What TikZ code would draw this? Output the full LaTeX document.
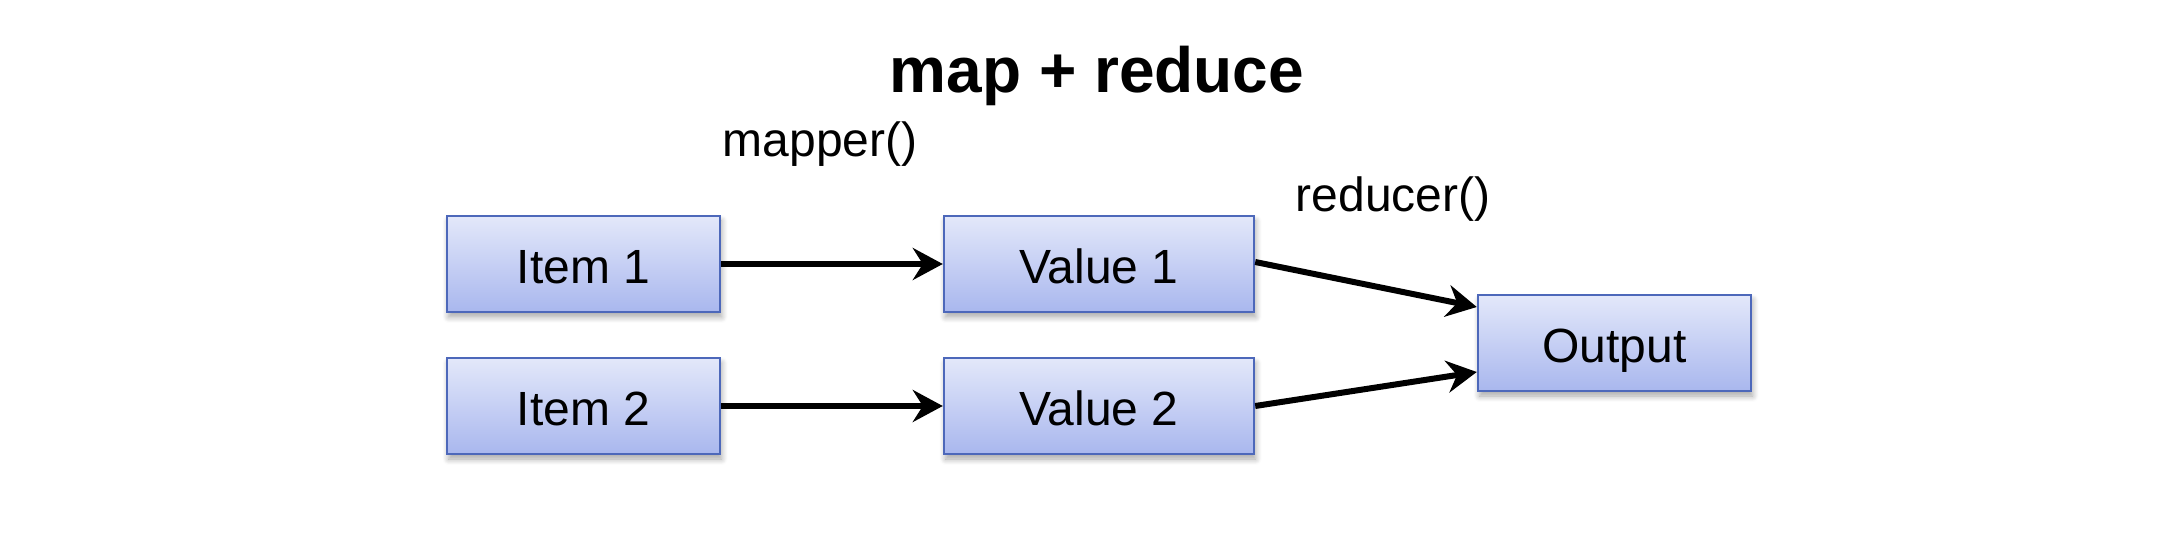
\documentclass[tikz,border=0pt]{standalone}
\usepackage{fontspec}
\setmainfont{Liberation Sans}
\usetikzlibrary{arrows.meta,shadows.blur,calc}
\definecolor{boxtop}{HTML}{E3E8FA}
\definecolor{boxbot}{HTML}{A9B7EE}
\definecolor{boxline}{HTML}{4D68BA}
\tikzset{
  procbox/.style={draw=boxline, line width=1.2pt, top color=boxtop, bottom color=boxbot,
    minimum height=48pt, inner sep=0pt, text height=20pt, text depth=0pt,
    font=\fontsize{24}{28}\selectfont,
    blur shadow={shadow xshift=0.8pt, shadow yshift=-2.5pt, shadow blur radius=3pt,
      shadow blur steps=8, shadow opacity=35}},
  smallbox/.style={procbox, minimum width=136.5pt},
  widebox/.style={procbox, minimum width=155pt},
  flow/.style={line width=3pt, -{Stealth[length=15pt,width=16pt,inset=5pt]}},
  lbl/.style={anchor=base, inner sep=0pt, font=\fontsize{24}{28}\selectfont},
}
\begin{document}
\begin{tikzpicture}[x=0.5pt,y=-0.5pt]
\useasboundingbox (0,0) rectangle (2184,560);
\node[lbl, font=\fontsize{32}{38}\selectfont\bfseries] (title) at (1097,93) {map + reduce};
\node[smallbox] (i1) at (583.5,264) {Item 1};
\node[smallbox] (i2) at (583.5,406) {Item 2};
\node[widebox] (v1) at (1099,264) {Value 1};
\node[widebox] (v2) at (1099,406) {Value 2};
\node[smallbox] (out) at (1614.5,343) {Output};
\node[lbl] (mapper) at (820,157) {mapper()};
\node[lbl] (reducer) at (1393,212) {reducer()};
\draw[flow] (i1) -- (v1);
\draw[flow] (i2) -- (v2);
\draw[flow] ([yshift=1pt]v1.east) -- ([yshift=18pt]out.west);
\draw[flow] (v2.east) -- ([yshift=-14.5pt]out.west);
\end{tikzpicture}
\end{document}
